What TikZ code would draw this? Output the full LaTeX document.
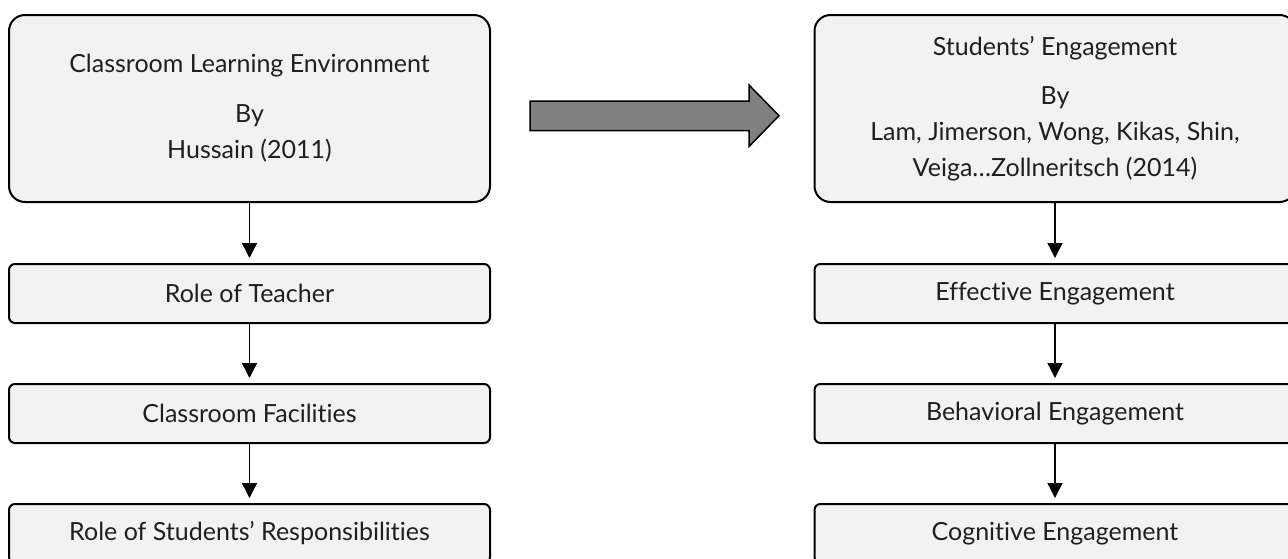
\documentclass[tikz,border=0pt]{standalone}
\usepackage{fontspec}
\setmainfont{Lato}[Ligatures=NoCommon]
\usetikzlibrary{arrows.meta}
\definecolor{boxfill}{HTML}{F2F2F2}
\definecolor{txt}{HTML}{1F1F1F}
\definecolor{arrowgray}{HTML}{808080}
\tikzset{
  bigbox/.style={draw=black, line width=2pt, fill=boxfill, rounded corners=16pt,
    minimum width=481pt, minimum height=187pt, align=center, text=txt, inner sep=0pt,
    font=\fontsize{25}{36}\selectfont},
  smallbox/.style={draw=black, line width=2pt, fill=boxfill, rounded corners=6pt,
    minimum width=481pt, minimum height=59pt, inner sep=0pt, text=txt,
    font=\fontsize{25}{36}\selectfont},
  flow/.style={line width=1.3pt, -{Triangle[width=15pt,length=15pt]}, shorten >=5pt},
  bigarrow/.style={draw=black, line width=1.5pt, fill=arrowgray}
}
\begin{document}
\begin{tikzpicture}[x=1pt,y=-1pt]
\useasboundingbox (0,0) rectangle (1288,558);
\clip (0,0) rectangle (1288,558);
% left column
\node[bigbox] (cle) at (249.5,108.5) {Classroom Learning Environment\\[14pt] By\\ Hussain (2011)};
\node[smallbox] (rt) at (249.5,293.5) {Role of Teacher};
\node[smallbox] (cf) at (249.5,413.5) {Classroom Facilities};
\node[smallbox] (rs) at (249.5,533.5) {Role of Students’ Responsibilities};
% right column
\node[bigbox] (se) at (1055,108.5) {Students’ Engagement\\[13pt] By\\ Lam, Jimerson, Wong, Kikas, Shin,\\ Veiga…Zollneritsch (2014)};
\node[smallbox] (ee) at (1055,293.5) {Effective Engagement};
\node[smallbox] (be) at (1055,413.5) {Behavioral Engagement};
\node[smallbox] (ce) at (1055,533.5) {Cognitive Engagement};
% connectors
\draw[flow] (cle) -- (rt);
\draw[flow] (rt) -- (cf);
\draw[flow] (cf) -- (rs);
\draw[flow] (se) -- (ee);
\draw[flow] (ee) -- (be);
\draw[flow] (be) -- (ce);
% block arrow
\draw[bigarrow] (530,101) -- (749,101) -- (749,85) -- (779,115.7) -- (749,146.5)
  -- (749,130.7) -- (530,130.7) -- cycle;
\end{tikzpicture}
\end{document}
